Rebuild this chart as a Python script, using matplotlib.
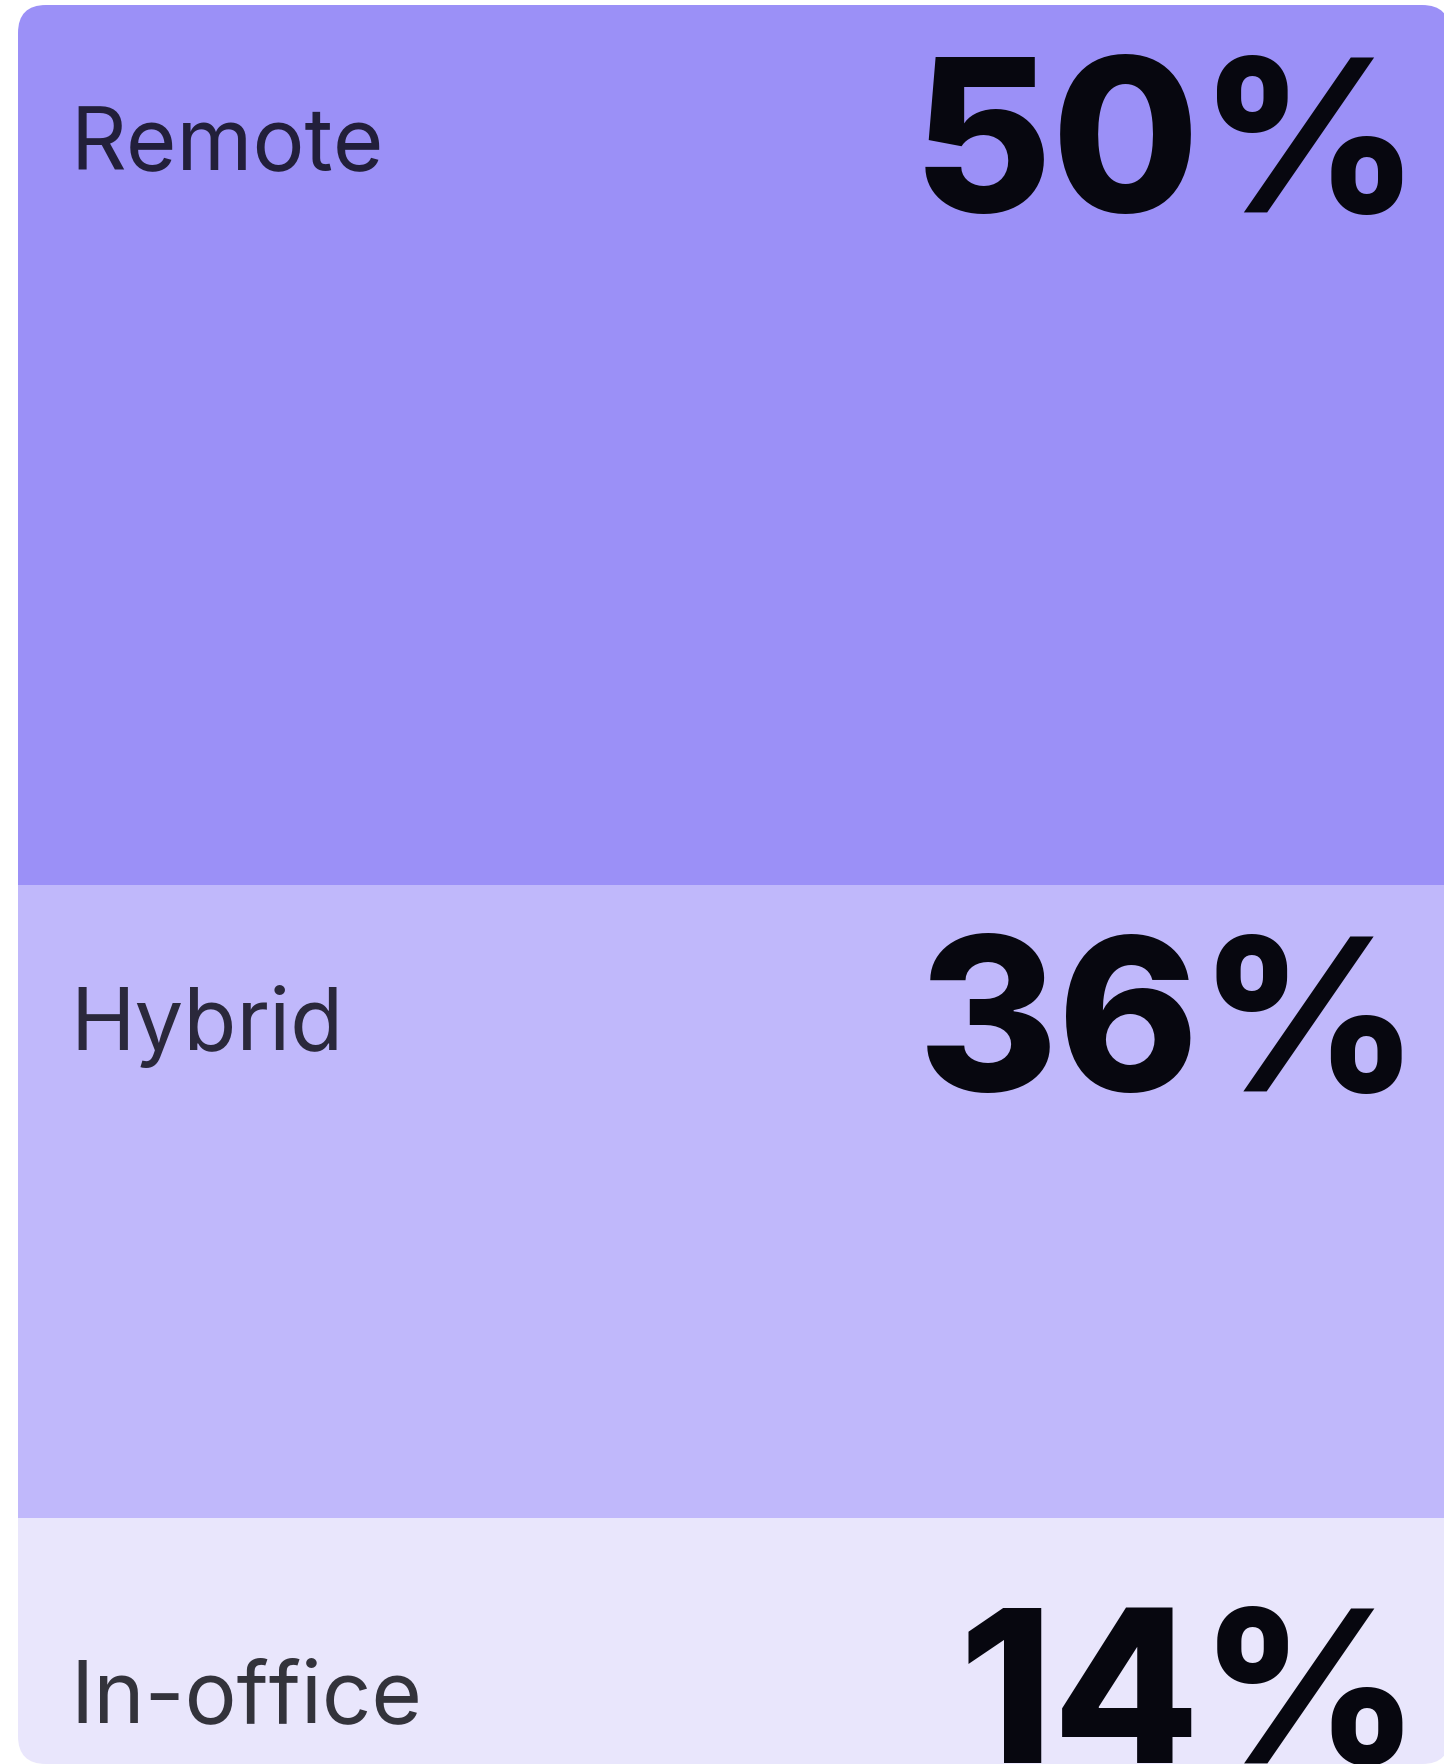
import matplotlib
matplotlib.use("Agg")
import matplotlib.pyplot as plt
from matplotlib.patches import FancyBboxPatch
import numpy as np

# ---------------------------------------------
# data
# ---------------------------------------------
categories = ["Remote", "Hybrid", "In-office"]
shares = [50, 36, 14]
value_labels = ["50%", "36%", "14%"]
colors = ["#9b90f7", "#c0b8fb", "#e9e6fc"]

# ---------------------------------------------
# layout (pixels of the 1444x1764 output)
# ---------------------------------------------
W, H = 1444, 1764
CARD_LEFT, CARD_RIGHT = 18, 1450
CARD_TOP = 5
PX_PER_PCT = (H - CARD_TOP) / 100.0
RADIUS = 28

LABEL_X = 70
NUM_RIGHT = 1420
# baseline offsets from each segment top, in pixels
LABEL_BASE = [165, 166, 204]
NUM_BASE = [207, 207, 245]

plt.rcParams["font.family"] = ["Inter", "DejaVu Sans"]

fig = plt.figure(figsize=(W / 100, H / 100), dpi=100)
fig.patch.set_facecolor("white")
ax = fig.add_axes([0, 0, 1, 1])
ax.set_xlim(0, W)
ax.set_ylim(100, -CARD_TOP / PX_PER_PCT)
ax.axis("off")

bottoms = np.concatenate([[0], np.cumsum(shares)[:-1]])

# card outline used to clip the stacked bars (rounded corners)
card = FancyBboxPatch((CARD_LEFT, 0), CARD_RIGHT - CARD_LEFT, 100,
                      boxstyle=f"round,pad=0,rounding_size={RADIUS}",
                      mutation_aspect=1 / PX_PER_PCT,
                      facecolor="none", edgecolor="none",
                      transform=ax.transData)
ax.add_patch(card)

bars = ax.bar([(CARD_LEFT + CARD_RIGHT) / 2] * len(shares), shares,
              width=CARD_RIGHT - CARD_LEFT, bottom=bottoms,
              color=colors, linewidth=0)
for b in bars:
    b.set_clip_path(card)


def px(p):
    return p / PX_PER_PCT


for i, (cat, lab, b0) in enumerate(zip(categories, value_labels, bottoms)):
    # label is a translucent near-black, so it tints with the segment colour
    ax.text(LABEL_X, b0 + px(LABEL_BASE[i]), cat,
            ha="left", va="baseline", fontsize=62.5,
            color="#000005", alpha=0.78)
    t = ax.text(NUM_RIGHT, b0 + px(NUM_BASE[i]), lab,
                ha="right", va="baseline", fontsize=154,
                fontweight=800, color="#07070f")
    t.set_clip_path(card)

fig.savefig("out.png", dpi=100, facecolor="white")
plt.close(fig)
